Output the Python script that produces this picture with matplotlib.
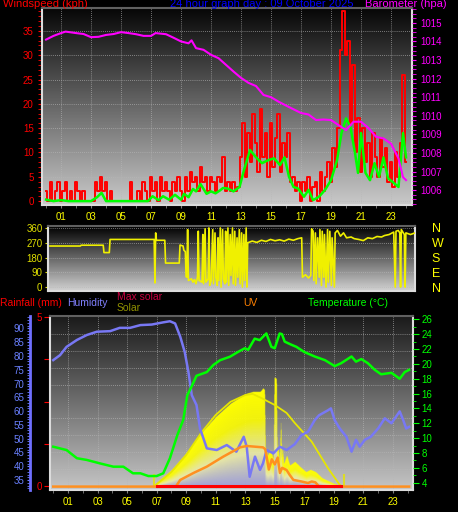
import numpy as np
import matplotlib
matplotlib.use('Agg')
import matplotlib.pyplot as plt
from matplotlib.colors import LinearSegmentedColormap, to_rgb
from matplotlib.ticker import MultipleLocator

plt.rcParams['font.family'] = ['Liberation Sans', 'DejaVu Sans']

# ---------------- data ----------------
hour_ticks = [1, 3, 5, 7, 9, 11, 13, 15, 17, 19, 21, 23]
hour_labels = ['01', '03', '05', '07', '09', '11', '13', '15', '17', '19', '21', '23']

# wind gust (kph), one value every 10 minutes
gust = [2, 0, 4, 0, 2, 4,  0, 2, 4, 0, 2, 0,  4, 2, 0, 2, 0, 0,  0, 0, 4, 2, 5, 2,
        4, 0, 2, 0, 0, 0,  0, 0, 0, 0, 4, 0,  0, 2, 0, 4, 2, 0,  5, 2, 4, 0, 5, 2,
        4, 2, 0, 4, 2, 5,  2, 0, 5, 2, 6, 4,  5, 2, 7, 4, 5, 2,  5, 4, 2, 5, 4, 9,
        2, 4, 2, 4, 2, 3,  9, 16, 5, 14, 8, 18,  12, 6, 19, 9, 14, 5,  16, 7, 13, 18, 6, 12,
        9, 14, 4, 5, 2, 4,  0, 4, 2, 5, 0, 3,  4, 0, 6, 2, 5, 8,  4, 11, 7, 15, 31, 39,
        30, 33, 16, 28, 10, 17,  6, 15, 8, 12, 5, 14,  9, 5, 13, 7, 11, 4,  8, 3, 10, 5, 12, 26,
        8]
gust_hr = np.arange(len(gust)) / 6

speed_hr = [0, 0.5, 1, 1.5, 2, 2.5, 3, 3.4, 3.7, 4, 4.5, 5, 5.5, 6, 6.5, 6.8, 7.1, 7.5, 7.8,
            8.2, 8.6, 9, 9.2, 9.5, 9.8, 10, 10.3, 10.7, 11, 11.3, 11.6, 11.8, 12.1, 12.5, 12.9,
            13.2, 13.6, 14.0, 14.4, 14.8, 15.2, 15.6, 15.9, 16.2, 16.5, 16.8, 17.2, 17.5, 17.8,
            18.2, 18.6, 19.0, 19.4, 19.7, 20.0, 20.3, 20.6, 20.8, 21.0, 21.3, 21.6, 21.9, 22.2,
            22.5, 22.8, 23.2, 23.5, 23.8, 24.0]
speed = [0.3, 0, 0.2, 0, 0, 0, 0, 0.8, 1.7, 0, 0, 0, 0, 0, 0, 0, 1.0, 0.2, 1.0,
         0.3, 1.3, 0.3, 1.5, 0.8, 2.5, 2.0, 3.5, 1.5, 2.0, 1.6, 2.2, 2.7, 2.6, 2.0, 2.9,
         6.4, 10.5, 9.0, 7.8, 8.4, 8.8, 7.4, 9.0, 5.0, 2.9, 2.6, 0.9, 2.3, 0.2,
         0.9, 2.3, 4.3, 8.4, 14, 17, 15.2, 9.9, 5.8, 14, 5.8, 4.3, 7.8, 5.0,
         9.0, 4.7, 3.7, 2.9, 14, 9.0]

baro_hr = [0, 0.5, 1, 1.3, 2, 2.5, 3, 3.5, 4, 4.5, 5, 5.5, 6, 6.5, 7, 7.3, 8, 8.5, 9, 9.5,
           9.7, 10, 10.5, 11, 11.5, 12, 12.5, 13, 13.5, 14, 14.5, 15, 15.5, 16, 16.5, 17,
           17.5, 18, 18.5, 19, 19.5, 20, 20.3, 20.5, 21, 21.5, 22, 22.5, 23, 23.5, 23.8, 24.0]
baro = [1014.1, 1014.3, 1014.45, 1014.53, 1014.45, 1014.4, 1014.23, 1014.25, 1014.35, 1014.4,
        1014.5, 1014.45, 1014.39, 1014.3, 1014.3, 1014.45, 1014.39, 1014.2, 1014.0, 1013.9,
        1014.06, 1013.64, 1013.55, 1013.28, 1013.1, 1012.74, 1012.38, 1012.04, 1011.77,
        1011.6, 1011.12, 1011.0, 1010.76, 1010.55, 1010.35, 1010.15, 1010.07, 1009.77,
        1009.8, 1009.77, 1009.5, 1009.23, 1009.5, 1009.68, 1009.68, 1009.34, 1008.87,
        1008.78, 1008.5, 1007.7, 1006.7, 1006.54]

dir_hr = [0, 2.0, 2.05, 3.5, 3.55, 3.9, 3.95, 6.85, 6.9, 6.95, 7.0, 7.55, 7.6, 8.5, 8.55,
          8.75, 8.8, 8.9, 8.95,
          9.0, 9.05, 9.1, 9.3, 9.4, 9.5, 9.6, 9.7, 9.75, 9.8, 10.0, 10.05, 10.1, 10.2, 10.25,
          10.4, 10.45, 10.5, 10.6, 10.7, 10.75, 10.85, 10.9, 11.0, 11.05, 11.1, 11.2, 11.25,
          11.35, 11.4, 11.5, 11.55, 11.6, 11.7, 11.75, 11.85, 11.9, 12.0, 12.05, 12.15, 12.2,
          12.3, 12.35, 12.45, 12.5, 12.6, 12.65, 12.75, 12.8, 12.9, 12.95, 13.0,
          13.3, 13.6, 13.9, 14.2, 14.5, 14.8, 15.1, 15.4, 15.7, 16.0, 16.3, 16.55, 16.6,
          16.8, 17.0, 17.15, 17.2, 17.3, 17.35, 17.45, 17.5, 17.6, 17.7, 17.75, 17.85, 17.9,
          18.0, 18.05, 18.15, 18.25, 18.3, 18.4, 18.5, 18.55, 18.7, 18.75, 18.9, 19.1, 19.3,
          19.5, 19.8, 20.0, 20.3, 20.6, 20.9, 21.2, 21.5, 21.8, 22.0, 22.3, 22.6, 22.7,
          22.75, 22.9, 23.0, 23.05, 23.1, 23.3, 23.35, 23.4, 23.7, 24.0]
wind_dir = [250, 250, 255, 255, 210, 210, 290, 290, 25, 330, 285, 285, 146, 146, 256,
            250, 225, 215, 63,
            60, 350, 40, 50, 30, 45, 20, 60, 340, 40, 30, 320, 20, 355, 30,
            50, 360, 10, 40, 350, 20, 330, 60, 10, 300, 40, 360, 0,
            350, 50, 20, 340, 30, 360, 10, 320, 70, 360, 20, 340, 10,
            300, 60, 350, 20, 330, 0, 320, 40, 360, 0, 270,
            280, 272, 285, 278, 290, 282, 288, 280, 292, 285, 295, 300, 60,
            75, 55, 70, 355, 340, 40, 330, 20, 300, 60, 350, 10, 340,
            60, 320, 0, 350, 30, 340, 10, 300, 0, 330, 345, 310, 330,
            300, 305, 295, 290, 283, 300, 295, 308, 305, 314, 320, 335, 0,
            340, 345, 330, 0, 350, 320, 0, 330, 320, 330]

hum_hr = [0, 0.46, 0.9, 1.6, 2.27, 2.95, 3.85, 4.5, 5.2, 5.9, 6.67, 7.45, 7.9, 8.25, 8.6,
          8.9, 9.15, 9.38, 9.7, 9.94, 10.4, 11.07, 11.75, 12.4, 12.9, 13.1, 13.3, 13.66,
          14.0, 14.2, 14.45, 14.9, 15.35, 15.8, 16.35, 16.8, 17.25, 17.7, 18.0, 18.6, 18.8,
          19.06, 19.4, 19.85, 20.2, 20.5, 20.75, 21.1, 21.5, 22.0, 22.45, 22.9, 23.46, 23.7,
          23.9, 24.1]
humidity = [78.5, 80.3, 83.3, 85.8, 87.6, 88.8, 89.0, 90.2, 90.2, 91.2, 91.4, 92.2, 92.6,
            91.8, 87.0, 81.5, 74.3, 65.8, 62.2, 53.7, 46.5, 45.9, 47.7, 45.3, 50.7, 47.1,
            36.2, 43.5, 38.7, 41.0, 45.9, 44.7, 47.1, 45.9, 48.0, 51.3, 52.5, 56.7, 58.5,
            60.3, 61.0, 56.7, 53.7, 50.7, 45.3, 49.6, 47.1, 49.6, 50.7, 53.7, 57.4, 55.6,
            59.9, 56.7, 53.7, 54.3]

temp_hr = [0, 0.9, 1.6, 2.27, 3.17, 4.07, 4.75, 5.4, 5.9, 6.44, 7.0, 7.45, 7.9, 8.4, 8.8,
           9.08, 9.26, 9.7, 10.4, 10.84, 11.3, 11.97, 12.5, 12.97, 13.2, 13.64, 13.98, 14.43,
           14.77, 15.0, 15.33, 15.49, 15.67, 16.1, 16.46, 17.0, 17.7, 18.4, 19.06, 19.5, 20.2,
           20.5, 20.86, 21.3, 21.77, 22.2, 22.9, 23.46, 23.8, 24.1]
temperature = [8.85, 8.4, 7.3, 7.07, 6.6, 6.16, 6.16, 5.27, 5.27, 4.9, 4.9, 5.27, 7.3, 10.4,
               12.45, 15.8, 16.5, 18.4, 18.9, 19.85, 20.5, 20.97, 21.6, 22.1, 21.9, 23.4,
               23.2, 24.1, 22.3, 22.1, 24.1, 24.0, 23.0, 22.6, 22.3, 21.6, 21.0, 20.5, 19.7,
               20.1, 21.0, 20.3, 20.65, 20.1, 19.2, 18.6, 18.8, 18.0, 18.9, 19.2]

uv_hr = [0, 8.3, 8.6, 9.5, 10.4, 11.5, 12.65, 13.1, 14.2, 14.35, 14.45, 14.6, 14.8, 15.0,
         15.2, 15.35, 15.5, 15.8, 16.0, 16.26, 16.8, 17.25, 17.5, 17.75, 18.0, 24.1]
uv = [0, 0, 0.39, 0.8, 1.17, 1.75, 2.3, 2.38, 2.3, 2.2, 1.75, 1.0, 1.6, 1.3, 1.7, 0.8, 1.1,
      0.97, 0.7, 0.39, 0.3, 0.21, 0.3, 0.25, 0, 0]

solar_hr = [6.8, 7.2, 8.0, 9.0, 10.0, 11.0, 12.0, 13.0, 13.5, 14.0, 14.2, 14.3, 14.35, 14.5,
            14.7, 14.9, 14.95, 15.1, 15.15, 15.2, 15.3, 15.4, 15.45, 15.5, 15.6, 15.8, 16.0,
            16.35, 16.7, 17.1, 17.4, 17.75, 18.2, 18.9, 19.5]
solar = [0, 23, 58, 118, 188, 246, 293, 326, 334, 334, 347, 340, 140, 110, 130, 95, 385,
         380, 120, 150, 90, 234, 100, 140, 80, 110, 75, 88, 70, 52, 60, 52, 30, 13, 0]

maxsolar_hr = [6.8, 8, 9, 10, 11, 12, 13, 13.5, 14.07, 15.0, 15.8, 16.35, 17.5, 18.6, 19.4, 19.6]
maxsolar = [0, 51, 111, 188, 252, 298, 322, 326, 312, 287, 259, 224, 158, 65, 6, 0]

sun_marks = [6.8, 19.7]
rain_hr = [7.0, 19.5]
rain = [0, 0]

# ---------------- layout helpers ----------------
W, H = 458, 512
fig = plt.figure(figsize=(W / 100, H / 100), dpi=100, facecolor='black')


def box(l, t, r, b):
    return [l / W, 1 - b / H, (r - l) / W, (b - t) / H]


def shade(ax, top, bottom):
    cmap = LinearSegmentedColormap.from_list('bg', [top, bottom])
    ax.imshow(np.linspace(0, 1, 256).reshape(-1, 1), cmap=cmap, aspect='auto',
              extent=[0, 1, 0, 1], transform=ax.transAxes, zorder=0)


def hide(ax):
    for s in ax.spines.values():
        s.set_visible(False)


grid_kw = dict(color='#b8b8b8', lw=0.6, ls=(0, (1, 1.5)), alpha=0.8)
FS = 7

# ---------------- wind / barometer ----------------
ax_w = fig.add_axes(box(42, 8, 412, 205))
shade(ax_w, '#060606', '#cacaca')
ax_w.plot(gust_hr, gust, color='#ff0000', lw=1.4, drawstyle='steps-mid', zorder=3)
ax_w.plot(speed_hr, speed, color='#00ff00', lw=1.8, zorder=4)
ax_w.set_xlim(-0.27, 24.4)
ax_w.set_ylim(-0.8, 39.7)
ax_w.set_xticks(hour_ticks, hour_labels)
ax_w.xaxis.set_minor_locator(MultipleLocator(1))
ax_w.yaxis.set_major_locator(MultipleLocator(5))
ax_w.yaxis.set_minor_locator(MultipleLocator(1))
ax_w.tick_params(axis='y', which='both', colors='#ff0000', labelsize=FS, length=3, pad=3)
ax_w.tick_params(axis='x', which='both', colors='#808080', labelcolor='#ffff00',
                 labelsize=FS, length=2, pad=3)
ax_w.grid(which='major', **grid_kw)
for k, s in ax_w.spines.items():
    s.set_color('#606060' if k == 'top' else '#dcdcdc')
    s.set_linewidth(1.5)

ax_p = ax_w.twinx()
hide(ax_p)
ax_p.plot(baro_hr, baro, color='#ff00ff', lw=1.5, zorder=5)
ax_p.set_ylim(1005.2, 1015.8)
ax_p.yaxis.set_major_locator(MultipleLocator(1))
ax_p.yaxis.set_minor_locator(MultipleLocator(0.25))
ax_p.tick_params(axis='y', which='both', colors='#ff00ff', labelsize=FS, length=3, pad=3)

fig.text(3 / W, 1 - 4 / H, 'Windspeed (kph)', color='#ff0000', fontsize=8, va='center')
fig.text(170 / W, 1 - 4 / H, '24 hour graph day : 09 October 2025', color='#0000ff',
         fontsize=8, va='center')
fig.text(365 / W, 1 - 4 / H, 'Barometer (hpa)', color='#ff00ff', fontsize=8, va='center')

# ---------------- wind direction ----------------
ax_d = fig.add_axes(box(48, 226, 415, 291))
shade(ax_d, '#000000', '#d2d2d2')
ax_d.plot(dir_hr, wind_dir, color='#f0f000', lw=1.2, zorder=3)
ax_d.set_xlim(-0.13, 24.0)
ax_d.set_ylim(-24, 372)
ax_d.set_yticks([0, 90, 180, 270, 360])
ax_d.set_xticks([])
ax_d.tick_params(axis='y', colors='#e0e000', labelsize=FS, length=2, pad=2)
ax_d.grid(axis='y', **grid_kw)
for k, s in ax_d.spines.items():
    s.set_color('#606060' if k == 'top' else '#dcdcdc')
    s.set_linewidth(1.5)

ax_d2 = ax_d.twinx()
hide(ax_d2)
ax_d2.set_ylim(ax_d.get_ylim())
ax_d2.set_yticks([0, 90, 180, 270, 360], ['N', 'E', 'S', 'W', 'N'])
ax_d2.tick_params(axis='y', length=0, pad=12, labelsize=9, colors='#ffff00')

# ---------------- rain / humidity / solar / uv / temperature ----------------
ax_r = fig.add_axes(box(50, 316, 413, 490))
shade(ax_r, '#1a1a1a', '#c6c6c6')
ax_r.set_xlim(-0.22, 24.36)
ax_r.set_ylim(-0.128, 5.04)
ax_r.set_xticks(hour_ticks, hour_labels)
ax_r.xaxis.set_minor_locator(MultipleLocator(1))
ax_r.set_yticks([0, 1.25, 2.5, 3.75, 5], ['0', '', '', '', '5'])
ax_r.yaxis.set_minor_locator(MultipleLocator(0.5))
ax_r.tick_params(axis='y', which='major', colors='#ff0000', labelsize=FS, length=4, pad=2)
ax_r.tick_params(axis='y', which='minor', length=0)
ax_r.tick_params(axis='x', which='both', colors='#808080', labelcolor='#ffff00',
                 labelsize=FS, length=2, pad=3)
ax_r.grid(which='minor', axis='y', **grid_kw)
ax_r.grid(which='major', axis='x', **grid_kw)
for k, s in ax_r.spines.items():
    s.set_color('#606060' if k == 'top' else '#dcdcdc')
    s.set_linewidth(1.5)

# solar (hidden scale), shaded yellow at the top of each column fading to lavender
ax_s = ax_r.twinx()
ax_s.set_axis_off()
gx = np.linspace(solar_hr[0], solar_hr[-1], 700)
gy = np.linspace(0, 400, 400)
top = np.interp(gx, solar_hr, solar)
t = gy[:, None] / np.maximum(top[None, :], 1e-6)
lav, pale, yel = (np.array(to_rgb(c)) for c in ('#8c8ce6', '#f6f6a8', '#ffff00'))
f = np.clip(t, 0, 1)[..., None]
rgb = np.where(f < 0.35, lav + (pale - lav) * (f / 0.35),
               pale + (yel - pale) * np.clip((f - 0.35) / 0.35, 0, 1))
alpha = np.where(t <= 1, 0.65 + 0.35 * f[..., 0], 0)
img = np.dstack([rgb, alpha])
ax_s.imshow(img, origin='lower', extent=[gx[0], gx[-1], 0, 400], aspect='auto',
            interpolation='bilinear', zorder=2)
ax_s.plot(maxsolar_hr, maxsolar, color='#e6e600', lw=1.3, zorder=3)
ax_s.vlines(sun_marks, 0, 45, color='#e6e600', lw=1.5, alpha=0.8, zorder=3)
ax_s.set_ylim(-12, 600)

# humidity
ax_h = ax_r.twinx()
hide(ax_h)
ax_h.plot(hum_hr, humidity, color='#7878f4', lw=1.8, zorder=3)
ax_h.set_ylim(31.4, 94.5)
ax_h.yaxis.tick_left()
ax_h.spines['left'].set_visible(True)
ax_h.spines['left'].set_position(('outward', 14.4))
ax_h.spines['left'].set_color('#7070ff')
ax_h.spines['left'].set_linewidth(2)
ax_h.yaxis.set_major_locator(MultipleLocator(5))
ax_h.yaxis.set_minor_locator(MultipleLocator(1))
ax_h.tick_params(axis='y', which='both', colors='#6a80ff', labelsize=FS, length=2, pad=2)

# uv (hidden scale)
ax_u = ax_r.twinx()
ax_u.set_axis_off()
ax_u.plot(uv_hr, uv, color='#ff9020', lw=1.8, zorder=3)
ax_u.set_ylim(-0.2, 10)

# rainfall line
ax_rl = ax_r.twinx()
ax_rl.set_axis_off()
ax_rl.plot(rain_hr, rain, color='#ff0000', lw=2.2, zorder=3)
ax_rl.set_ylim(ax_r.get_ylim())

# temperature
ax_t = ax_r.twinx()
hide(ax_t)
ax_t.plot(temp_hr, temperature, color='#00ff00', lw=1.8, zorder=3)
ax_t.set_ylim(3.02, 26.45)
ax_t.yaxis.set_major_locator(MultipleLocator(2))
ax_t.yaxis.set_minor_locator(MultipleLocator(1))
ax_t.tick_params(axis='y', which='major', colors='#00ff00', labelsize=FS, length=4, pad=2)
ax_t.tick_params(axis='y', which='minor', colors='#00ff00', length=2)

for a in (ax_s, ax_h, ax_u, ax_rl, ax_t):
    a.set_xlim(ax_r.get_xlim())

fig.text(0 / W, 1 - 303 / H, 'Rainfall (mm)', color='#ff0000', fontsize=7.5, va='center')
fig.text(67 / W, 1 - 303 / H, 'Humidity', color='#8080ff', fontsize=7.5, va='center')
fig.text(117 / W, 1 - 297 / H, 'Max solar', color='#c80040', fontsize=7.5, va='center')
fig.text(117 / W, 1 - 308 / H, 'Solar', color='#909000', fontsize=7.5, va='center')
fig.text(243 / W, 1 - 303 / H, 'UV', color='#ff8000', fontsize=7.5, va='center')
fig.text(308 / W, 1 - 303 / H, 'Temperature (°C)', color='#00ff00', fontsize=7.5, va='center')

fig.savefig('out.png', dpi=100, facecolor='black')
